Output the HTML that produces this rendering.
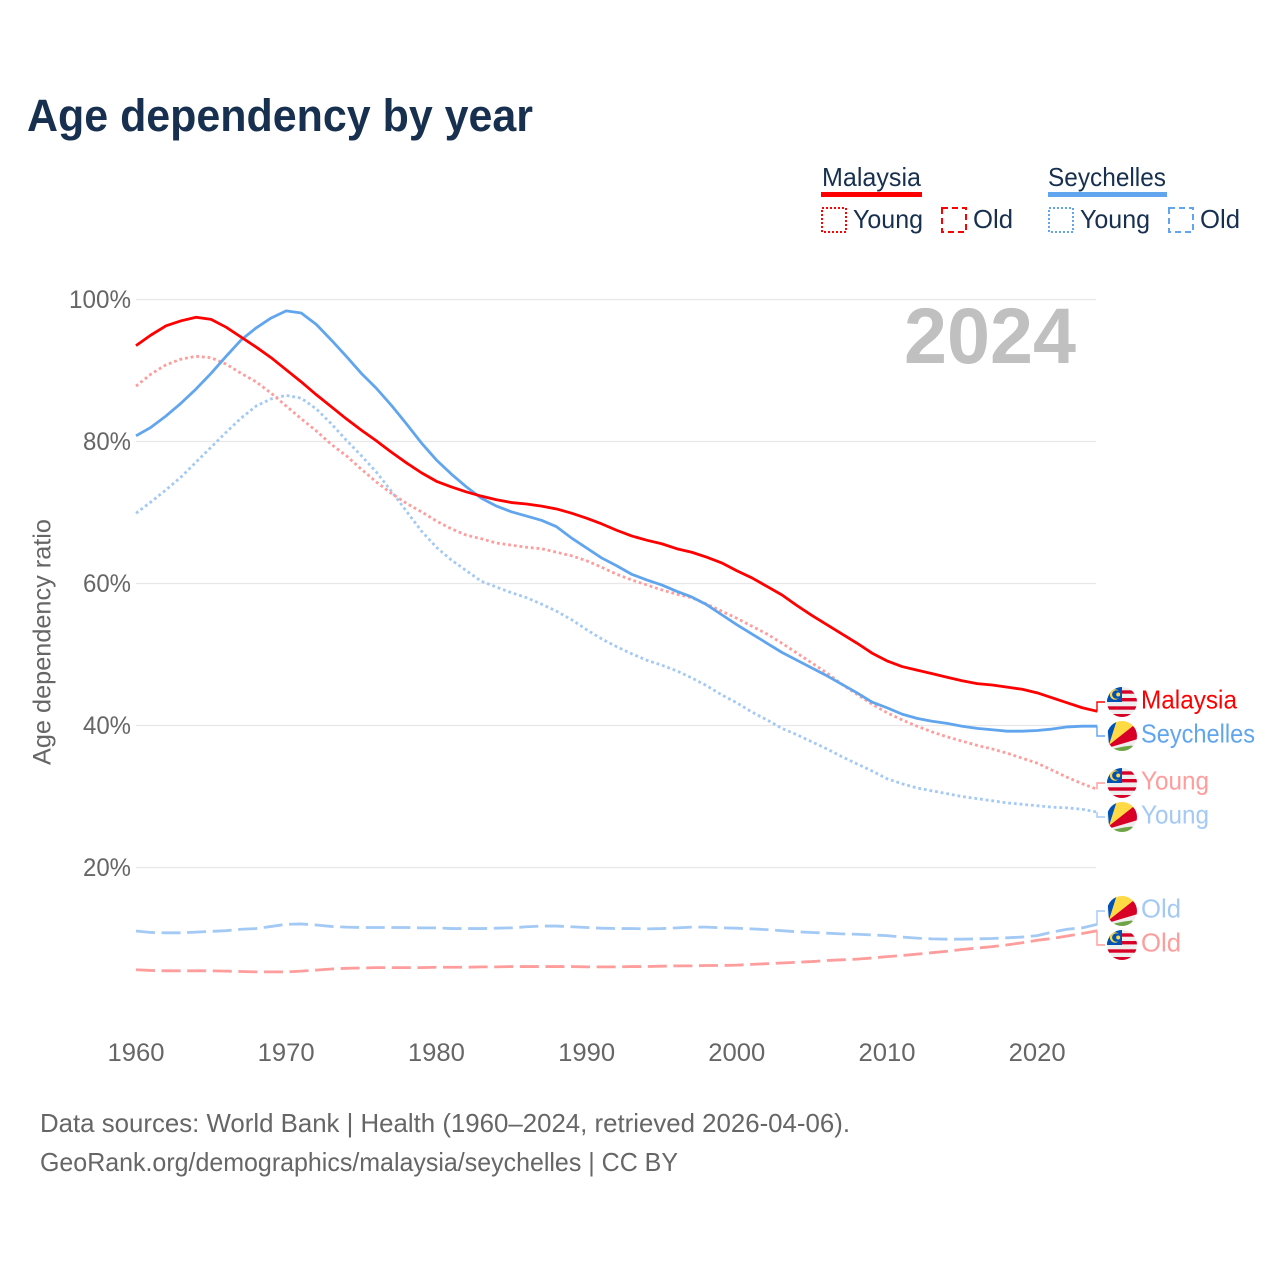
<!DOCTYPE html>
<html lang="en">
<head>
<meta charset="utf-8">
<title>Age dependency by year</title>
<style>
html,body{margin:0;padding:0;background:#fff;}
svg{display:block;}
text{font-family:"Liberation Sans",sans-serif;}
</style>
</head>
<body>
<svg id="chart" width="1280" height="1280" viewBox="0 0 1280 1280" xmlns="http://www.w3.org/2000/svg">
<rect x="0" y="0" width="1280" height="1280" fill="#fff"/>
<text x="27" y="131" font-size="45" font-weight="700" fill="#18304f" textLength="506" lengthAdjust="spacingAndGlyphs">Age dependency by year</text>

<g font-size="26" fill="#18304f">
<text x="822" y="186" textLength="99" lengthAdjust="spacingAndGlyphs">Malaysia</text>
<rect x="821" y="192" width="101" height="5" fill="#ff0000"/>
<rect x="822" y="208" width="24" height="24" fill="none" stroke="#ff0000" stroke-width="2" stroke-dasharray="2 2"/>
<text x="853" y="228" textLength="70" lengthAdjust="spacingAndGlyphs">Young</text>
<rect x="942" y="208" width="24" height="24" fill="none" stroke="#ff0000" stroke-width="2" stroke-dasharray="6 4"/>
<text x="973" y="228" textLength="40" lengthAdjust="spacingAndGlyphs">Old</text>
<text x="1048" y="186" textLength="118" lengthAdjust="spacingAndGlyphs">Seychelles</text>
<rect x="1048" y="192" width="119" height="5" fill="#60a5ee"/>
<rect x="1049" y="208" width="24" height="24" fill="none" stroke="#60a5ee" stroke-width="2" stroke-dasharray="2 2"/>
<text x="1080" y="228" textLength="70" lengthAdjust="spacingAndGlyphs">Young</text>
<rect x="1169" y="208" width="24" height="24" fill="none" stroke="#60a5ee" stroke-width="2" stroke-dasharray="6 4"/>
<text x="1200" y="228" textLength="40" lengthAdjust="spacingAndGlyphs">Old</text>
</g>

<g id="grid"></g>
<text x="904" y="363" font-size="79" font-weight="700" fill="#c0c0c0" textLength="172" lengthAdjust="spacingAndGlyphs">2024</text>
<text transform="translate(50.5 642) rotate(-90)" text-anchor="middle" font-size="25" fill="#666666" textLength="246" lengthAdjust="spacingAndGlyphs">Age dependency ratio</text>
<g id="series"></g>
<g id="end-labels"></g>

<text x="40" y="1132" font-size="26" fill="#666666" textLength="810" lengthAdjust="spacingAndGlyphs">Data sources: World Bank | Health (1960–2024, retrieved 2026-04-06).</text>
<text x="40" y="1171" font-size="26" fill="#666666" textLength="638" lengthAdjust="spacingAndGlyphs">GeoRank.org/demographics/malaysia/seychelles | CC BY</text>
</svg>

<script>
const firstYear = 1960;
const xTickYears = [1960, 1970, 1980, 1990, 2000, 2010, 2020];
const yTickValues = [20, 40, 60, 80, 100];

const malaysiaTotal = [93.5,95,96.3,97,97.5,97.2,96.1,94.7,93.3,91.8,90.1,88.4,86.6,84.9,83.2,81.6,80.1,78.5,77,75.6,74.4,73.6,72.9,72.3,71.8,71.4,71.2,70.9,70.5,69.9,69.2,68.4,67.5,66.7,66.1,65.6,64.9,64.4,63.7,62.9,61.8,60.8,59.6,58.4,56.9,55.5,54.2,52.9,51.6,50.2,49.1,48.3,47.8,47.3,46.8,46.3,45.9,45.7,45.4,45.1,44.6,43.9,43.2,42.5,42];
const seychellesTotal = [80.8,82,83.6,85.4,87.4,89.6,92,94.3,96,97.4,98.4,98.1,96.5,94.3,92,89.6,87.5,85.1,82.5,79.8,77.4,75.4,73.6,72,70.9,70.1,69.5,68.9,68,66.4,65,63.6,62.5,61.3,60.5,59.8,58.9,58.1,57,55.6,54.2,52.9,51.6,50.3,49.2,48.1,47,45.8,44.6,43.3,42.5,41.6,41,40.6,40.3,39.9,39.6,39.4,39.2,39.2,39.3,39.5,39.8,39.9,39.9];
const malaysiaYoung = [87.8,89.5,90.8,91.6,92,91.8,90.9,89.6,88.4,86.8,85,83.2,81.5,79.6,78,76.1,74.3,72.7,71.3,70.1,68.8,67.7,66.8,66.3,65.7,65.4,65.1,64.9,64.4,63.9,63.2,62.3,61.3,60.5,59.8,59.1,58.5,58,57.1,56.1,55.1,54,52.9,51.6,50.2,48.8,47.4,45.8,44.4,43,41.8,40.8,39.9,39.1,38.4,37.8,37.2,36.7,36.1,35.4,34.7,33.7,32.7,31.8,31];
const seychellesYoung = [69.9,71.5,73.2,75,77.1,79.2,81.3,83.3,85,86,86.5,86.1,84.6,82.5,80.2,78,75.7,73,70.2,67.4,65.1,63.3,61.8,60.3,59.5,58.7,58,57.1,56.1,54.9,53.5,52.2,51.1,50.1,49.2,48.5,47.7,46.7,45.6,44.3,43.2,41.9,40.8,39.6,38.7,37.7,36.7,35.6,34.6,33.6,32.5,31.8,31.2,30.8,30.4,30,29.7,29.4,29.1,28.9,28.7,28.5,28.4,28.2,27.8];
const seychellesOld = [11.05,10.85,10.8,10.8,10.9,11,11.1,11.3,11.4,11.7,12,12.05,11.9,11.7,11.6,11.55,11.55,11.55,11.55,11.5,11.5,11.4,11.4,11.4,11.45,11.5,11.65,11.75,11.75,11.65,11.55,11.45,11.4,11.4,11.35,11.4,11.5,11.6,11.6,11.5,11.45,11.35,11.25,11.1,10.95,10.85,10.75,10.65,10.6,10.5,10.4,10.2,10.05,9.95,9.9,9.9,9.95,10,10.1,10.2,10.4,10.9,11.3,11.5,12];
const malaysiaOld = [5.6,5.5,5.45,5.45,5.45,5.45,5.4,5.35,5.3,5.3,5.3,5.4,5.55,5.7,5.8,5.85,5.9,5.9,5.9,5.9,5.95,5.95,5.95,6,6,6.05,6.05,6.05,6.05,6.05,6,6,6,6.05,6.05,6.1,6.15,6.15,6.2,6.2,6.25,6.35,6.45,6.55,6.65,6.75,6.9,7,7.1,7.25,7.45,7.6,7.8,8,8.2,8.45,8.65,8.85,9.1,9.4,9.75,10,10.35,10.7,11.1];

const NS = 'http://www.w3.org/2000/svg';
const xScale = year => 136 + (year - 1960) * 15.02;
const yScale = value => 1009.5 - value * 7.1;

function make(parent, tag, attrs, text) {
  const el = document.createElementNS(NS, tag);
  for (const k in attrs) el.setAttribute(k, attrs[k]);
  if (text !== undefined) el.textContent = text;
  parent.appendChild(el);
  return el;
}

const grid = document.getElementById('grid');
yTickValues.forEach(v => {
  const line = make(grid, 'line', {x1: 136, x2: 1096, y1: yScale(v), y2: yScale(v), stroke: '#e8e8e8', 'stroke-width': 1.3});
  
  
  const tickWidth = String(v).length > 2 ? 62 : 48;
  const label = make(grid, 'text', {x: 131, y: yScale(v) + 8.5, 'text-anchor': 'end', 'font-size': 25, fill: '#666666', textLength: tickWidth, lengthAdjust: 'spacingAndGlyphs'}, v + '%');
  
  
});
xTickYears.forEach(y => {
  const label = make(grid, 'text', {x: xScale(y), y: 1061, 'text-anchor': 'middle', 'font-size': 25, fill: '#666666', textLength: 57, lengthAdjust: 'spacingAndGlyphs'}, String(y));
  
  
});

function drawLine(values, color, dash, name) {
  const pts = values.map((v, i) => xScale(firstYear + i).toFixed(2) + ',' + yScale(v).toFixed(2)).join(' ');
  const line = make(document.getElementById('series'), 'polyline', {points: pts, fill: 'none', stroke: color, 'stroke-width': 2.8, 'stroke-dasharray': dash, 'stroke-linejoin': 'round'});
  
  
}
drawLine(seychellesOld, '#a3c9f5', '19 6.6', 'line-seychelles-old');
drawLine(malaysiaOld, '#ff9c9c', '19 6.6', 'line-malaysia-old');
drawLine(seychellesYoung, '#a3c9f5', '2.8 2.9', 'line-seychelles-young');
drawLine(malaysiaYoung, '#ff9c9c', '2.8 2.9', 'line-malaysia-young');
drawLine(seychellesTotal, '#60a5ee', 'none', 'line-seychelles-total');
drawLine(malaysiaTotal, '#ff0000', 'none', 'line-malaysia-total');

const defs = make(document.getElementById('chart'), 'defs', {});
let clipCount = 0;
function drawFlag(parent, kind, cy) {
  const id = 'flagclip' + (clipCount++);
  const clip = make(defs, 'clipPath', {id: id});
  make(clip, 'circle', {cx: 0, cy: 0, r: 15});
  const g = make(parent, 'g', {transform: 'translate(1122 ' + cy + ')', 'clip-path': 'url(#' + id + ')'});
  
  
  if (kind === 'malaysia') {
    make(g, 'rect', {x: -15, y: -15, width: 30, height: 30, fill: '#eeeeee'});
    [-11.7, -4, 4.3, 12].forEach(y => make(g, 'rect', {x: -15, y: y, width: 30, height: 3.4, fill: '#d80027'}));
    make(g, 'rect', {x: -15, y: -15, width: 15, height: 15, fill: '#0052b4'});
    make(g, 'circle', {cx: -7, cy: -7.5, r: 5.2, fill: '#ffda44'});
    make(g, 'circle', {cx: -5.6, cy: -7.5, r: 4.3, fill: '#0052b4'});
    make(g, 'circle', {cx: -3.8, cy: -7.5, r: 2, fill: '#ffda44'});
  } else {
    make(g, 'rect', {x: -15, y: -15, width: 30, height: 30, fill: '#eeeeee'});
    make(g, 'polygon', {points: '-13,9 -15,-15 -5,-16', fill: '#0052b4'});
    make(g, 'polygon', {points: '-13,9 -5,-16 14,-15 11,-9.5', fill: '#ffda44'});
    make(g, 'polygon', {points: '-12.5,8.5 11,-10 16,-6 16,3 -11,11', fill: '#d80027'});
    make(g, 'polygon', {points: '-8,12.5 2,10.5 10,9.5 14,16 -8,16', fill: '#6da544'});
  }
}

const endLabels = [
  {series: malaysiaTotal, kind: 'malaysia', cy: 702, text: 'Malaysia', color: '#ff0000', width: 96},
  {series: seychellesTotal, kind: 'seychelles', cy: 736, text: 'Seychelles', color: '#60a5ee', width: 114},
  {series: malaysiaYoung, kind: 'malaysia', cy: 783, text: 'Young', color: '#ff9c9c', width: 68},
  {series: seychellesYoung, kind: 'seychelles', cy: 817, text: 'Young', color: '#a3c9f5', width: 68},
  {series: seychellesOld, kind: 'seychelles', cy: 911, text: 'Old', color: '#a3c9f5', width: 40},
  {series: malaysiaOld, kind: 'malaysia', cy: 945, text: 'Old', color: '#ff9c9c', width: 40}
];
const endParent = document.getElementById('end-labels');
endLabels.forEach(d => {
  const lastY = yScale(d.series[d.series.length - 1]);
  const conn = make(endParent, 'polyline', {points: '1097,' + lastY + ' 1097,' + d.cy + ' 1105,' + d.cy, fill: 'none', stroke: d.color, 'stroke-width': 1.4});
  
  
  drawFlag(endParent, d.kind, d.cy);
  const t = make(endParent, 'text', {x: 1141, y: d.cy + 6.5, 'font-size': 26, fill: d.color, textLength: d.width, lengthAdjust: 'spacingAndGlyphs'}, d.text);
  
  
});
</script>
</body>
</html>
